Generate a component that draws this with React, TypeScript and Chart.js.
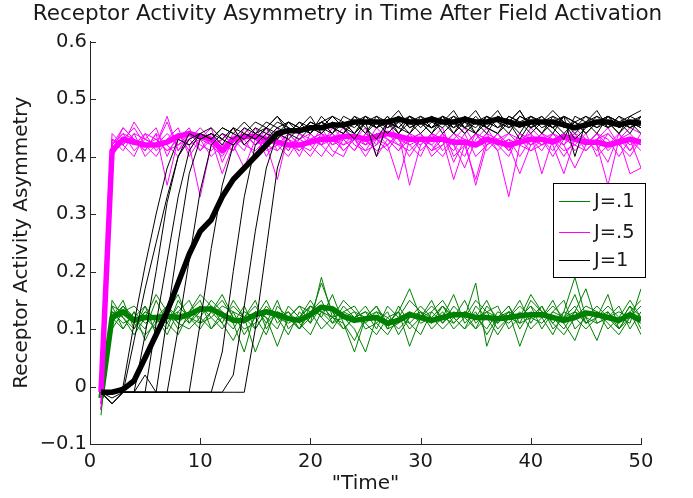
import React, { useEffect, useRef } from "react";
import { Chart, registerables } from "chart.js";

Chart.register(...registerables);

// ---------- data ----------
const TIME = Array.from({ length: 50 }, (_, i) => i + 1);

const TITLE = "Receptor Activity Asymmetry in Time After Field Activation";
const LEGEND_LABELS = ["J=.1", "J=.5", "J=1"];
const X_TICKS = [0, 10, 20, 30, 40, 50];
const Y_TICKS = [-0.1, 0, 0.1, 0.2, 0.3, 0.4, 0.5, 0.6];

// J=.1 (green) trials
const G1 = [-0.05, 0.15, 0.12, 0.10, 0.14, 0.09, 0.13, 0.16, 0.11, 0.14, 0.12, 0.10, 0.13, 0.09, 0.12, 0.15, 0.11, 0.13, 0.10, 0.12, 0.18, 0.13, 0.10, 0.12, 0.14, 0.11, 0.09, 0.12, 0.15, 0.13, 0.10, 0.12, 0.16, 0.11, 0.13, 0.09, 0.12, 0.14, 0.10, 0.13, 0.12, 0.15, 0.11, 0.08, 0.13, 0.12, 0.16, 0.10, 0.13, 0.09];
const G2 = [-0.03, 0.11, 0.14, 0.12, 0.10, 0.15, 0.11, 0.09, 0.13, 0.16, 0.14, 0.11, 0.08, 0.12, 0.14, 0.11, 0.15, 0.10, 0.12, 0.14, 0.12, 0.16, 0.11, 0.08, 0.12, 0.13, 0.10, 0.14, 0.11, 0.09, 0.13, 0.15, 0.12, 0.10, 0.14, 0.12, 0.09, 0.12, 0.15, 0.11, 0.14, 0.10, 0.12, 0.13, 0.17, 0.11, 0.12, 0.14, 0.10, 0.13];
const G3 = [-0.02, 0.13, 0.12, 0.09, 0.12, 0.16, 0.13, 0.11, 0.10, 0.12, 0.15, 0.13, 0.11, 0.14, 0.10, 0.13, 0.12, 0.09, 0.13, 0.11, 0.14, 0.12, 0.15, 0.13, 0.10, 0.11, 0.13, 0.09, 0.12, 0.14, 0.12, 0.10, 0.12, 0.15, 0.11, 0.13, 0.14, 0.10, 0.12, 0.16, 0.13, 0.11, 0.09, 0.12, 0.14, 0.13, 0.10, 0.12, 0.15, 0.12];
const G4 = [-0.04, 0.12, 0.10, 0.13, 0.11, 0.12, 0.09, 0.13, 0.15, 0.11, 0.13, 0.16, 0.12, 0.10, 0.11, 0.14, 0.12, 0.13, 0.11, 0.09, 0.13, 0.14, 0.12, 0.10, 0.06, 0.12, 0.11, 0.13, 0.10, 0.12, 0.15, 0.11, 0.13, 0.12, 0.10, 0.14, 0.12, 0.11, 0.13, 0.10, 0.12, 0.14, 0.12, 0.16, 0.11, 0.13, 0.11, 0.09, 0.12, 0.11];
const G5 = [-0.02, 0.14, 0.13, 0.11, 0.09, 0.11, 0.14, 0.12, 0.13, 0.15, 0.10, 0.12, 0.14, 0.12, 0.15, 0.10, 0.13, 0.12, 0.14, 0.13, 0.10, 0.12, 0.13, 0.14, 0.11, 0.09, 0.12, 0.13, 0.17, 0.12, 0.11, 0.13, 0.10, 0.12, 0.15, 0.13, 0.10, 0.12, 0.14, 0.12, 0.11, 0.13, 0.15, 0.10, 0.12, 0.14, 0.12, 0.11, 0.14, 0.10];
const G6 = [-0.03, 0.10, 0.13, 0.14, 0.12, 0.10, 0.12, 0.13, 0.11, 0.13, 0.14, 0.12, 0.10, 0.13, 0.12, 0.09, 0.14, 0.12, 0.10, 0.13, 0.15, 0.11, 0.12, 0.13, 0.12, 0.14, 0.10, 0.11, 0.13, 0.12, 0.14, 0.12, 0.11, 0.13, 0.12, 0.10, 0.13, 0.12, 0.11, 0.15, 0.13, 0.12, 0.10, 0.13, 0.11, 0.12, 0.13, 0.10, 0.12, 0.14];
const G7 = [-0.04, 0.12, 0.15, 0.10, 0.13, 0.12, 0.11, 0.14, 0.12, 0.10, 0.13, 0.15, 0.12, 0.11, 0.13, 0.12, 0.10, 0.14, 0.12, 0.15, 0.12, 0.10, 0.13, 0.12, 0.11, 0.13, 0.12, 0.10, 0.12, 0.13, 0.11, 0.14, 0.12, 0.13, 0.10, 0.12, 0.11, 0.13, 0.12, 0.14, 0.12, 0.09, 0.13, 0.12, 0.10, 0.12, 0.14, 0.12, 0.11, 0.17];
const G8 = [-0.01, 0.13, 0.11, 0.12, 0.14, 0.11, 0.13, 0.10, 0.12, 0.11, 0.12, 0.14, 0.13, 0.12, 0.10, 0.13, 0.12, 0.11, 0.12, 0.14, 0.13, 0.12, 0.10, 0.12, 0.13, 0.12, 0.11, 0.12, 0.13, 0.11, 0.12, 0.14, 0.12, 0.10, 0.12, 0.13, 0.12, 0.14, 0.11, 0.12, 0.13, 0.12, 0.11, 0.13, 0.12, 0.11, 0.12, 0.13, 0.12, 0.12];
const G9 = [-0.04, 0.14, 0.10, 0.13, 0.08, 0.12, 0.14, 0.11, 0.13, 0.12, 0.10, 0.13, 0.11, 0.06, 0.13, 0.12, 0.07, 0.12, 0.14, 0.11, 0.19, 0.12, 0.11, 0.06, 0.12, 0.14, 0.11, 0.13, 0.07, 0.12, 0.13, 0.11, 0.14, 0.12, 0.18, 0.07, 0.12, 0.13, 0.07, 0.12, 0.14, 0.11, 0.13, 0.19, 0.12, 0.08, 0.13, 0.11, 0.14, 0.12];
const G10 = [-0.02, 0.12, 0.14, 0.11, 0.13, 0.12, 0.10, 0.15, 0.12, 0.14, 0.13, 0.11, 0.15, 0.12, 0.06, 0.11, 0.13, 0.12, 0.10, 0.14, 0.13, 0.11, 0.14, 0.12, 0.13, 0.10, 0.14, 0.12, 0.11, 0.13, 0.12, 0.14, 0.11, 0.13, 0.12, 0.15, 0.11, 0.13, 0.12, 0.14, 0.10, 0.13, 0.12, 0.14, 0.11, 0.13, 0.12, 0.10, 0.13, 0.15];
const G_MEAN = [-0.02, 0.12, 0.13, 0.115, 0.12, 0.12, 0.122, 0.12, 0.125, 0.135, 0.135, 0.125, 0.115, 0.115, 0.125, 0.13, 0.125, 0.118, 0.115, 0.125, 0.138, 0.135, 0.122, 0.115, 0.118, 0.12, 0.11, 0.115, 0.125, 0.12, 0.115, 0.12, 0.125, 0.125, 0.12, 0.12, 0.118, 0.12, 0.123, 0.125, 0.125, 0.12, 0.115, 0.12, 0.128, 0.125, 0.12, 0.115, 0.125, 0.115];

// J=.5 (magenta) trials
const M1 = [-0.02, 0.42, 0.44, 0.41, 0.43, 0.45, 0.40, 0.44, 0.42, 0.43, 0.45, 0.39, 0.43, 0.44, 0.42, 0.45, 0.41, 0.43, 0.40, 0.44, 0.42, 0.45, 0.43, 0.41, 0.44, 0.42, 0.46, 0.43, 0.40, 0.43, 0.41, 0.44, 0.42, 0.38, 0.43, 0.45, 0.42, 0.40, 0.44, 0.43, 0.41, 0.44, 0.42, 0.45, 0.43, 0.41, 0.44, 0.42, 0.43, 0.41];
const M2 = [-0.01, 0.43, 0.41, 0.44, 0.40, 0.42, 0.46, 0.41, 0.44, 0.42, 0.41, 0.43, 0.45, 0.42, 0.44, 0.40, 0.43, 0.41, 0.44, 0.42, 0.40, 0.43, 0.45, 0.42, 0.41, 0.44, 0.42, 0.36, 0.43, 0.44, 0.42, 0.40, 0.43, 0.45, 0.42, 0.44, 0.41, 0.43, 0.42, 0.45, 0.43, 0.40, 0.43, 0.44, 0.41, 0.43, 0.45, 0.42, 0.40, 0.43];
const M3 = [-0.03, 0.41, 0.43, 0.45, 0.42, 0.40, 0.43, 0.44, 0.41, 0.44, 0.42, 0.40, 0.43, 0.41, 0.45, 0.42, 0.44, 0.43, 0.41, 0.43, 0.44, 0.41, 0.40, 0.44, 0.42, 0.43, 0.41, 0.44, 0.42, 0.40, 0.44, 0.43, 0.41, 0.44, 0.40, 0.42, 0.44, 0.42, 0.37, 0.42, 0.44, 0.43, 0.41, 0.42, 0.44, 0.40, 0.42, 0.43, 0.44, 0.42];
const M4 = [-0.02, 0.44, 0.42, 0.40, 0.44, 0.43, 0.41, 0.43, 0.45, 0.41, 0.44, 0.42, 0.41, 0.45, 0.43, 0.41, 0.42, 0.44, 0.42, 0.41, 0.44, 0.43, 0.41, 0.43, 0.45, 0.40, 0.43, 0.42, 0.44, 0.41, 0.43, 0.45, 0.40, 0.42, 0.44, 0.41, 0.43, 0.44, 0.42, 0.41, 0.43, 0.44, 0.42, 0.38, 0.42, 0.44, 0.41, 0.43, 0.45, 0.44];
const M5 = [-0.04, 0.42, 0.44, 0.43, 0.41, 0.44, 0.42, 0.40, 0.43, 0.45, 0.43, 0.41, 0.44, 0.42, 0.41, 0.43, 0.45, 0.42, 0.43, 0.44, 0.42, 0.40, 0.43, 0.44, 0.42, 0.44, 0.43, 0.41, 0.43, 0.44, 0.40, 0.42, 0.44, 0.42, 0.36, 0.43, 0.42, 0.44, 0.43, 0.41, 0.42, 0.43, 0.44, 0.41, 0.43, 0.42, 0.39, 0.44, 0.42, 0.43];
const M6 = [-0.01, 0.40, 0.43, 0.42, 0.44, 0.41, 0.43, 0.45, 0.40, 0.43, 0.42, 0.44, 0.42, 0.43, 0.40, 0.44, 0.42, 0.40, 0.43, 0.42, 0.45, 0.42, 0.44, 0.43, 0.40, 0.43, 0.44, 0.42, 0.41, 0.43, 0.42, 0.44, 0.39, 0.43, 0.42, 0.44, 0.43, 0.41, 0.44, 0.42, 0.43, 0.41, 0.44, 0.43, 0.42, 0.44, 0.43, 0.40, 0.43, 0.38];
const M7 = [-0.02, 0.43, 0.42, 0.44, 0.43, 0.42, 0.44, 0.42, 0.43, 0.41, 0.43, 0.37, 0.42, 0.43, 0.44, 0.42, 0.41, 0.43, 0.42, 0.40, 0.43, 0.44, 0.42, 0.43, 0.41, 0.42, 0.44, 0.43, 0.42, 0.43, 0.41, 0.43, 0.42, 0.40, 0.44, 0.43, 0.42, 0.43, 0.40, 0.43, 0.42, 0.44, 0.43, 0.42, 0.41, 0.43, 0.42, 0.44, 0.41, 0.43];
const M8 = [-0.03, 0.41, 0.45, 0.43, 0.42, 0.43, 0.41, 0.42, 0.44, 0.43, 0.40, 0.42, 0.43, 0.44, 0.42, 0.43, 0.44, 0.42, 0.41, 0.43, 0.42, 0.43, 0.42, 0.44, 0.43, 0.41, 0.42, 0.44, 0.43, 0.42, 0.44, 0.41, 0.43, 0.42, 0.44, 0.42, 0.43, 0.41, 0.43, 0.44, 0.42, 0.43, 0.40, 0.43, 0.42, 0.43, 0.44, 0.42, 0.43, 0.42];
const M9 = [-0.02, 0.42, 0.45, 0.43, 0.41, 0.44, 0.35, 0.43, 0.42, 0.33, 0.42, 0.44, 0.42, 0.38, 0.43, 0.42, 0.36, 0.44, 0.42, 0.43, 0.44, 0.42, 0.43, 0.41, 0.44, 0.43, 0.42, 0.44, 0.35, 0.42, 0.44, 0.43, 0.36, 0.42, 0.44, 0.43, 0.41, 0.33, 0.42, 0.44, 0.37, 0.43, 0.42, 0.44, 0.43, 0.42, 0.35, 0.43, 0.37, 0.38];
const M10 = [-0.01, 0.43, 0.42, 0.46, 0.43, 0.42, 0.47, 0.41, 0.43, 0.44, 0.42, 0.43, 0.41, 0.44, 0.42, 0.44, 0.43, 0.41, 0.44, 0.43, 0.42, 0.44, 0.41, 0.43, 0.42, 0.45, 0.43, 0.41, 0.44, 0.43, 0.41, 0.42, 0.44, 0.43, 0.35, 0.42, 0.44, 0.41, 0.43, 0.42, 0.44, 0.42, 0.37, 0.43, 0.42, 0.44, 0.42, 0.43, 0.41, 0.44];
const M_MEAN = [-0.01, 0.41, 0.43, 0.425, 0.42, 0.42, 0.425, 0.435, 0.44, 0.435, 0.43, 0.41, 0.43, 0.435, 0.435, 0.43, 0.425, 0.42, 0.42, 0.425, 0.43, 0.43, 0.435, 0.435, 0.43, 0.435, 0.44, 0.435, 0.43, 0.43, 0.43, 0.43, 0.425, 0.425, 0.42, 0.43, 0.425, 0.42, 0.425, 0.43, 0.43, 0.425, 0.435, 0.43, 0.425, 0.425, 0.42, 0.425, 0.43, 0.425];

// J=1 (black) trials
const B1 = [-0.01, -0.03, -0.01, 0.08, 0.17, 0.25, 0.33, 0.40, 0.43, 0.44, 0.43, 0.45, 0.44, 0.43, 0.45, 0.44, 0.46, 0.45, 0.44, 0.46, 0.45, 0.47, 0.45, 0.44, 0.46, 0.47, 0.45, 0.46, 0.44, 0.47, 0.46, 0.45, 0.47, 0.46, 0.44, 0.46, 0.48, 0.45, 0.46, 0.47, 0.45, 0.46, 0.44, 0.46, 0.47, 0.46, 0.45, 0.47, 0.46, 0.45];
const B2 = [-0.01, -0.01, 0.00, 0.11, 0.21, 0.30, 0.38, 0.43, 0.42, 0.44, 0.45, 0.43, 0.42, 0.44, 0.46, 0.45, 0.43, 0.46, 0.45, 0.47, 0.44, 0.46, 0.45, 0.47, 0.45, 0.43, 0.46, 0.47, 0.45, 0.46, 0.44, 0.47, 0.45, 0.46, 0.48, 0.45, 0.44, 0.47, 0.46, 0.45, 0.47, 0.45, 0.43, 0.47, 0.46, 0.44, 0.47, 0.46, 0.44, 0.47];
const B3 = [-0.01, -0.02, -0.01, -0.01, 0.09, 0.20, 0.32, 0.40, 0.44, 0.43, 0.44, 0.42, 0.45, 0.44, 0.43, 0.45, 0.47, 0.44, 0.46, 0.45, 0.46, 0.44, 0.47, 0.46, 0.44, 0.46, 0.45, 0.47, 0.46, 0.44, 0.46, 0.47, 0.44, 0.46, 0.45, 0.47, 0.46, 0.44, 0.47, 0.46, 0.44, 0.47, 0.46, 0.43, 0.45, 0.47, 0.46, 0.44, 0.47, 0.48];
const B4 = [-0.01, -0.03, -0.01, -0.01, 0.02, -0.01, 0.12, 0.25, 0.37, 0.43, 0.44, 0.43, 0.45, 0.42, 0.44, 0.46, 0.45, 0.44, 0.46, 0.44, 0.47, 0.45, 0.46, 0.44, 0.47, 0.45, 0.46, 0.48, 0.45, 0.46, 0.47, 0.44, 0.46, 0.45, 0.47, 0.45, 0.44, 0.46, 0.48, 0.45, 0.46, 0.47, 0.45, 0.46, 0.44, 0.46, 0.47, 0.45, 0.46, 0.47];
const B5 = [-0.01, -0.01, -0.01, -0.01, -0.01, -0.01, -0.01, 0.10, 0.22, 0.34, 0.42, 0.44, 0.43, 0.45, 0.44, 0.43, 0.45, 0.46, 0.44, 0.45, 0.46, 0.45, 0.44, 0.47, 0.46, 0.45, 0.47, 0.44, 0.46, 0.47, 0.45, 0.46, 0.44, 0.47, 0.46, 0.45, 0.47, 0.46, 0.43, 0.46, 0.47, 0.45, 0.46, 0.44, 0.46, 0.47, 0.45, 0.47, 0.45, 0.46];
const B6 = [-0.01, -0.01, -0.01, -0.01, -0.01, -0.01, -0.01, -0.01, -0.01, 0.11, 0.24, 0.35, 0.42, 0.44, 0.43, 0.45, 0.44, 0.46, 0.45, 0.44, 0.46, 0.47, 0.45, 0.46, 0.44, 0.47, 0.46, 0.45, 0.47, 0.46, 0.45, 0.46, 0.48, 0.45, 0.44, 0.47, 0.46, 0.45, 0.47, 0.46, 0.44, 0.46, 0.47, 0.45, 0.46, 0.48, 0.45, 0.46, 0.47, 0.46];
const B7 = [-0.01, -0.01, -0.01, -0.01, -0.01, -0.01, -0.01, -0.01, -0.01, -0.01, -0.01, 0.06, 0.20, 0.33, 0.42, 0.44, 0.43, 0.45, 0.44, 0.46, 0.45, 0.44, 0.46, 0.45, 0.47, 0.46, 0.44, 0.46, 0.47, 0.45, 0.47, 0.46, 0.45, 0.47, 0.44, 0.46, 0.45, 0.47, 0.46, 0.44, 0.46, 0.48, 0.46, 0.45, 0.47, 0.45, 0.46, 0.44, 0.46, 0.45];
const B8 = [-0.01, -0.01, -0.01, -0.01, -0.01, -0.01, -0.01, -0.01, -0.01, -0.01, -0.01, -0.01, -0.01, -0.01, 0.10, 0.24, 0.38, 0.44, 0.43, 0.45, 0.44, 0.46, 0.45, 0.43, 0.46, 0.45, 0.47, 0.45, 0.44, 0.46, 0.45, 0.47, 0.46, 0.44, 0.46, 0.47, 0.45, 0.46, 0.44, 0.47, 0.46, 0.45, 0.47, 0.46, 0.44, 0.46, 0.47, 0.46, 0.45, 0.46];
const B9 = [-0.01, -0.03, -0.01, -0.01, -0.01, 0.11, 0.22, 0.33, 0.41, 0.44, 0.43, 0.45, 0.44, 0.46, 0.44, 0.45, 0.47, 0.45, 0.44, 0.46, 0.45, 0.47, 0.46, 0.44, 0.46, 0.40, 0.46, 0.45, 0.47, 0.46, 0.44, 0.46, 0.47, 0.45, 0.46, 0.44, 0.47, 0.46, 0.45, 0.47, 0.46, 0.45, 0.47, 0.40, 0.46, 0.45, 0.47, 0.46, 0.45, 0.47];
const B10 = [-0.01, -0.01, -0.01, -0.01, -0.01, -0.01, -0.01, -0.01, -0.01, -0.01, -0.01, -0.01, 0.02, 0.14, 0.27, 0.38, 0.44, 0.43, 0.45, 0.44, 0.46, 0.45, 0.44, 0.46, 0.47, 0.45, 0.46, 0.44, 0.47, 0.46, 0.45, 0.47, 0.46, 0.44, 0.46, 0.45, 0.47, 0.46, 0.48, 0.45, 0.46, 0.44, 0.47, 0.46, 0.45, 0.46, 0.47, 0.45, 0.46, 0.44];
const B_MEAN = [-0.01, -0.01, -0.005, 0.01, 0.05, 0.09, 0.13, 0.18, 0.23, 0.27, 0.29, 0.33, 0.36, 0.38, 0.40, 0.42, 0.44, 0.445, 0.445, 0.45, 0.45, 0.455, 0.455, 0.46, 0.46, 0.46, 0.46, 0.465, 0.46, 0.46, 0.465, 0.46, 0.46, 0.465, 0.46, 0.46, 0.465, 0.46, 0.455, 0.46, 0.46, 0.46, 0.455, 0.45, 0.455, 0.46, 0.46, 0.455, 0.46, 0.458];

const GREEN_TRIALS = [G1, G2, G3, G4, G5, G6, G7, G8, G9, G10];
const MAGENTA_TRIALS = [M1, M2, M3, M4, M5, M6, M7, M8, M9, M10];
const BLACK_TRIALS = [B1, B2, B3, B4, B5, B6, B7, B8, B9, B10];

// ---------- styling ----------
const FONT = '"DejaVu Sans", "Liberation Sans", Arial, sans-serif';
const TEXT = "#1a1a1a";
const GREEN = "#008000";
const MAGENTA = "#ff00ff";
const BLACK = "#000000";

const toPoints = (arr: number[]) => arr.map((y, i) => ({ x: TIME[i], y }));

const lineDs = (arr: number[], color: string, width: number, order: number) => ({
  data: toPoints(arr),
  borderColor: color,
  backgroundColor: color,
  borderWidth: width,
  pointRadius: 0,
  tension: 0,
  fill: false,
  order,
  borderJoinStyle: "round" as const,
});

const inwardTicks = {
  id: "inwardTicks",
  afterDatasetsDraw(chart: any) {
    const { ctx, chartArea, scales } = chart;
    ctx.save();
    ctx.strokeStyle = "#262626";
    ctx.lineWidth = 1;
    for (const v of X_TICKS) {
      const px = Math.round(scales.x.getPixelForValue(v)) + 0.5;
      ctx.beginPath();
      ctx.moveTo(px, chartArea.bottom);
      ctx.lineTo(px, chartArea.bottom - 6);
      ctx.stroke();
    }
    for (const v of Y_TICKS) {
      const py = Math.round(scales.y.getPixelForValue(v)) + 0.5;
      ctx.beginPath();
      ctx.moveTo(chartArea.left, py);
      ctx.lineTo(chartArea.left + 6, py);
      ctx.stroke();
    }
    ctx.restore();
  },
};

const titleAndLegend = {
  id: "titleAndLegend",
  afterDraw(chart: any) {
    const { ctx, chartArea } = chart;
    ctx.save();
    // title, centred on the whole figure
    ctx.font = `21.5px ${FONT}`;
    ctx.fillStyle = TEXT;
    ctx.textAlign = "center";
    ctx.textBaseline = "middle";
    ctx.fillText(TITLE, chart.width / 2 + 1, 14.3);

    // legend box inside the axes
    const left = chartArea.right - 88;
    const top = chartArea.top + 141.5;
    const w = 92;
    const h = 94;
    ctx.fillStyle = "#ffffff";
    ctx.fillRect(left, top, w, h);
    ctx.strokeStyle = "#000000";
    ctx.lineWidth = 1;
    ctx.strokeRect(Math.round(left) + 0.5, Math.round(top) + 0.5, w, h);
    const colors = [GREEN, MAGENTA, BLACK];
    const rows = [18, 49, 77];
    ctx.font = `19.5px ${FONT}`;
    ctx.textBaseline = "middle";
    ctx.textAlign = "left";
    LEGEND_LABELS.forEach((label, i) => {
      const y = Math.round(top + rows[i]) + 0.5;
      ctx.strokeStyle = colors[i];
      ctx.lineWidth = 1;
      ctx.beginPath();
      ctx.moveTo(left + 6, y);
      ctx.lineTo(left + 37, y);
      ctx.stroke();
      ctx.fillStyle = TEXT;
      ctx.fillText(label, left + 41, y);
    });
    ctx.restore();
  },
};

export default function App() {
  const canvasRef = useRef<HTMLCanvasElement | null>(null);

  useEffect(() => {
    if (!canvasRef.current) return;
    const datasets: any[] = [];
    // lower order = drawn on top
    datasets.push(lineDs(B_MEAN, BLACK, 5.5, 0));
    BLACK_TRIALS.forEach((t) => datasets.push(lineDs(t, BLACK, 1, 1)));
    datasets.push(lineDs(M_MEAN, MAGENTA, 5.5, 2));
    MAGENTA_TRIALS.forEach((t) => datasets.push(lineDs(t, MAGENTA, 1, 3)));
    datasets.push(lineDs(G_MEAN, GREEN, 5.5, 4));
    GREEN_TRIALS.forEach((t) => datasets.push(lineDs(t, GREEN, 1, 5)));

    const chart = new Chart(canvasRef.current, {
      type: "line",
      data: { datasets },
      plugins: [inwardTicks, titleAndLegend],
      options: {
        animation: false,
        responsive: false,
        maintainAspectRatio: false,
        devicePixelRatio: 1,
        layout: { padding: { left: 0, right: 52, top: 41.5, bottom: 0 } },
        plugins: {
          legend: { display: false },
          tooltip: { enabled: false },
          title: { display: false },
        },
        scales: {
          x: {
            type: "linear",
            min: 0,
            max: 50,
            afterFit: (s: any) => {
              s.height = 54;
            },
            afterBuildTicks: (s: any) => {
              s.ticks = X_TICKS.map((v) => ({ value: v }));
            },
            grid: { display: false, drawTicks: false },
            border: { display: true, color: "#262626", width: 1 },
            ticks: {
              color: TEXT,
              font: { family: FONT, size: 19.5 },
              padding: 6,
              maxRotation: 0,
              callback: (v: any) => String(v),
            },
            title: {
              display: true,
              text: '"Time"',
              color: TEXT,
              font: { family: FONT, size: 20 },
              padding: { top: 0, bottom: 2 },
            },
          },
          y: {
            type: "linear",
            min: -0.1,
            max: 0.6,
            afterFit: (s: any) => {
              s.width = 90;
            },
            afterBuildTicks: (s: any) => {
              s.ticks = Y_TICKS.map((v) => ({ value: v }));
            },
            grid: { display: false, drawTicks: false },
            border: { display: true, color: "#262626", width: 1 },
            ticks: {
              color: TEXT,
              font: { family: FONT, size: 19.5 },
              padding: 3,
              callback: (v: any) => {
                const n = Number(v);
                if (Math.abs(n) < 1e-9) return "0";
                const s = Math.abs(n).toFixed(1);
                return n < 0 ? "\u2212" + s : s;
              },
            },
            title: {
              display: true,
              text: "Receptor Activity Asymmetry",
              color: TEXT,
              font: { family: FONT, size: 20 },
              padding: { top: 10, bottom: 0 },
            },
          },
        },
      },
    });
    return () => chart.destroy();
  }, []);

  return (
    <div style={{ position: "absolute", left: 0, top: 0, width: 693, height: 498, background: "#fff" }}>
      <canvas ref={canvasRef} width={693} height={498} style={{ width: 693, height: 498, display: "block" }} />
    </div>
  );
}
